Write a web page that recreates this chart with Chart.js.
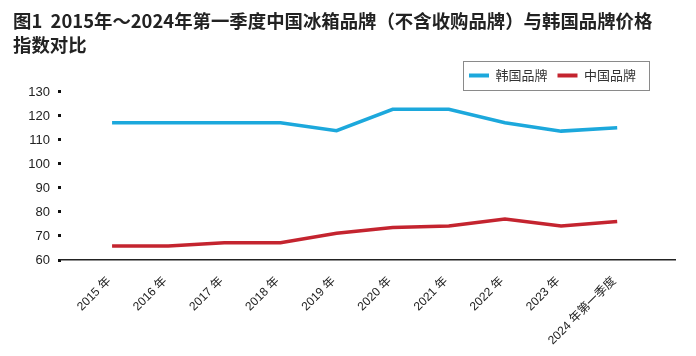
<!DOCTYPE html>
<html>
<head>
<meta charset="utf-8">
<script src="https://cdn.jsdelivr.net/npm/chart.js@4/dist/chart.umd.min.js"></script>
<style>
html,body{margin:0;padding:0;background:#fff;}
#wrap{width:696px;height:356px;position:relative;}
</style>
</head>
<body>
<div id="wrap"><canvas id="c" width="696" height="356"></canvas></div>
<script>
const titleLines = ['图1  2015年～2024年第一季度中国冰箱品牌（不含收购品牌）与韩国品牌价格', '指数对比'];
const categories = ['2015 年','2016 年','2017 年','2018 年','2019 年','2020 年','2021 年','2022 年','2023 年','2024 年第一季度'];
const seriesNames = ['韩国品牌','中国品牌'];
const koreaValues = [117.2,117.2,117.2,117.2,113.9,122.8,122.8,117.2,113.7,115.1];
const chinaValues = [65.8,65.8,67.2,67.2,71.1,73.5,74.2,77.1,74.2,76.0];
const yTicks = [60,70,80,90,100,110,120,130];
const colors = ['#1ca8dc','#c4242f'];

const toPoints = arr => arr.map((v,i)=>({x:i,y:v}));

const layoutFix = {
  id:'layoutFix',
  afterLayout(chart){
    if (chart.titleBlock){ chart.titleBlock.left = 13; }
    if (chart.legend){ chart.legend.right = 646; }
  },
  afterDraw(chart){
    const lg = chart.legend;
    if (!lg || !lg.lineWidths) return;
    const ctx = chart.ctx;
    const R = lg.right;
    const left = R - lg.lineWidths[0] - 6;
    const right = R + 3;
    const cy = lg.top + 10 + 6.5;
    ctx.save();
    ctx.strokeStyle = '#8a8a8a';
    ctx.lineWidth = 1;
    ctx.strokeRect(Math.round(left)+0.5, Math.round(cy-14.5)+0.5, Math.round(right-left), 29);
    ctx.restore();
  }
};

new Chart(document.getElementById('c'), {
  type:'line',
  data:{
    datasets:[
      {label:seriesNames[0], data:toPoints(koreaValues), borderColor:colors[0], backgroundColor:colors[0], borderWidth:3.5, pointRadius:0, tension:0},
      {label:seriesNames[1], data:toPoints(chinaValues), borderColor:colors[1], backgroundColor:colors[1], borderWidth:3.5, pointRadius:0, tension:0}
    ]
  },
  options:{
    responsive:false,
    animation:false,
    layout:{padding:{left:13,right:21,top:0,bottom:0}},
    plugins:{
      tooltip:{enabled:false},
      title:{
        display:true, text:titleLines, align:'start', color:'#222',
        font:{family:'"Noto Sans CJK SC"', size:18.4, weight:'bold', lineHeight:1.3043},
        padding:{top:9,bottom:2}
      },
      legend:{
        display:true, position:'top', align:'end',
        labels:{
          boxWidth:20, boxHeight:4, padding:10, color:'#333',
          font:{family:'"Noto Sans CJK SC"', size:13},
          generateLabels(chart){
            return chart.data.datasets.map((ds,i)=>({text:ds.label, fillStyle:ds.borderColor, strokeStyle:ds.borderColor, lineWidth:0, datasetIndex:i, fontColor:'#333'}));
          }
        }
      }
    },
    scales:{
      x:{
        type:'linear', min:-0.91, max:10.03,
        afterFit(scale){ scale.height = 96; },
        grid:{display:false},
        border:{display:true,color:'#222',width:1.5},
        ticks:{
          stepSize:1, autoSkip:false, maxRotation:45, minRotation:45, padding:6, labelOffset:-3,
          color:'#222', font:{family:'"Liberation Sans","Noto Sans CJK SC"', size:12},
          callback:(v)=> (Number.isInteger(v) && categories[v] !== undefined) ? categories[v] : ''
        }
      },
      y:{
        min:yTicks[0], max:yTicks[yTicks.length-1],
        afterFit(scale){ scale.width = 48; },
        afterBuildTicks(scale){ scale.ticks = yTicks.map(v=>({value:v})); },
        grid:{display:true, drawOnChartArea:false, drawTicks:true, tickLength:3, lineWidth:3, color:'#111'},
        border:{display:false},
        ticks:{padding:8, color:'#222', font:{family:'"Liberation Sans"', size:13}}
      }
    }
  },
  plugins:[layoutFix]
});
</script>
</body>
</html>
